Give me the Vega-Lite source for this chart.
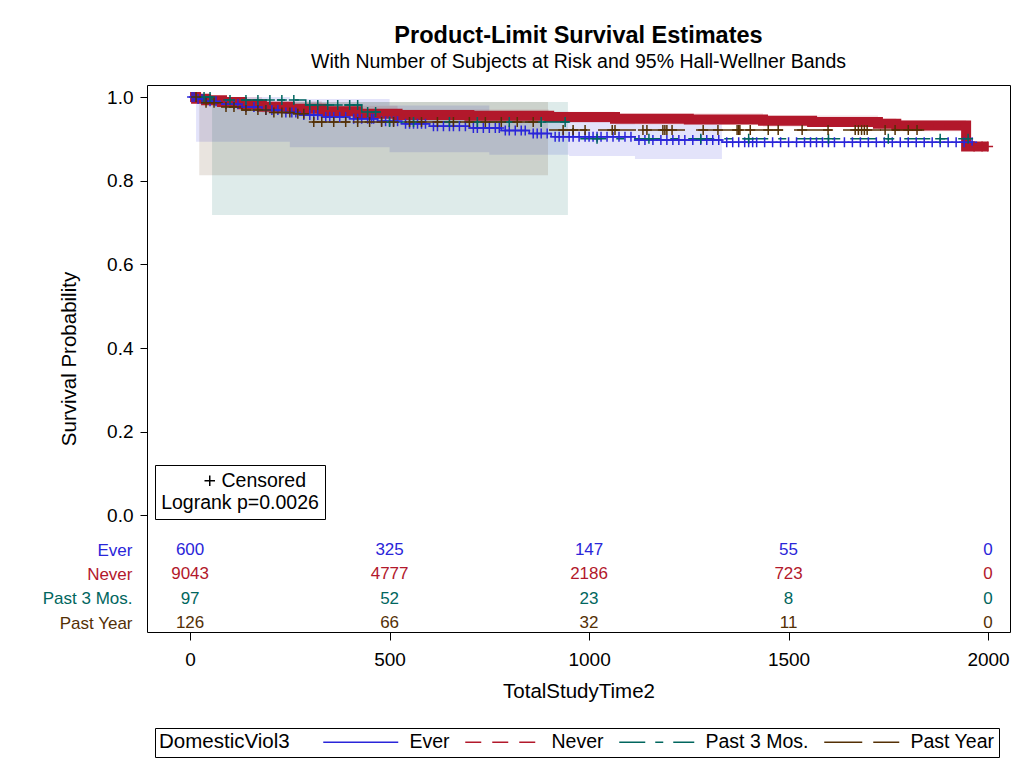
{
  "$schema": "https://vega.github.io/schema/vega-lite/v6.json",
  "width": 863,
  "height": 547,
  "autosize": {"type": "none"},
  "padding": {"left": 147, "top": 85, "right": 20, "bottom": 137},
  "background": "white",
  "title": {
    "text": "Product-Limit Survival Estimates",
    "subtitle": "With Number of Subjects at Risk and 95% Hall-Wellner Bands",
    "anchor": "middle",
    "fontSize": 23.5,
    "fontWeight": "bold",
    "color": "black",
    "subtitleFontSize": 19.5,
    "subtitleColor": "black",
    "subtitlePadding": 5,
    "offset": 6
  },
  "datasets": {
    "km": [
      {"group": "Ever", "t": 0, "s": 1.0}, {"group": "Ever", "t": 15, "s": 0.995}, {"group": "Ever", "t": 40, "s": 0.99},
      {"group": "Ever", "t": 80, "s": 0.983}, {"group": "Ever", "t": 130, "s": 0.976}, {"group": "Ever", "t": 180, "s": 0.969},
      {"group": "Ever", "t": 230, "s": 0.963}, {"group": "Ever", "t": 275, "s": 0.957}, {"group": "Ever", "t": 330, "s": 0.952},
      {"group": "Ever", "t": 400, "s": 0.948}, {"group": "Ever", "t": 470, "s": 0.942}, {"group": "Ever", "t": 530, "s": 0.936},
      {"group": "Ever", "t": 600, "s": 0.93}, {"group": "Ever", "t": 700, "s": 0.926}, {"group": "Ever", "t": 780, "s": 0.92},
      {"group": "Ever", "t": 850, "s": 0.913}, {"group": "Ever", "t": 905, "s": 0.905}, {"group": "Ever", "t": 1115, "s": 0.897},
      {"group": "Ever", "t": 1333, "s": 0.892}, {"group": "Ever", "t": 1965, "s": 0.892},
      {"group": "Never", "t": 0, "s": 1.0}, {"group": "Never", "t": 15, "s": 0.996}, {"group": "Never", "t": 40, "s": 0.992},
      {"group": "Never", "t": 80, "s": 0.988}, {"group": "Never", "t": 130, "s": 0.983}, {"group": "Never", "t": 180, "s": 0.977},
      {"group": "Never", "t": 250, "s": 0.972}, {"group": "Never", "t": 330, "s": 0.966}, {"group": "Never", "t": 420, "s": 0.96},
      {"group": "Never", "t": 520, "s": 0.957}, {"group": "Never", "t": 700, "s": 0.955}, {"group": "Never", "t": 900, "s": 0.952},
      {"group": "Never", "t": 1065, "s": 0.948}, {"group": "Never", "t": 1250, "s": 0.946}, {"group": "Never", "t": 1436, "s": 0.943},
      {"group": "Never", "t": 1559, "s": 0.94}, {"group": "Never", "t": 1724, "s": 0.936}, {"group": "Never", "t": 1770, "s": 0.932},
      {"group": "Never", "t": 1945, "s": 0.882}, {"group": "Never", "t": 2000, "s": 0.882},
      {"group": "Past 3 Mos.", "t": 0, "s": 1.0}, {"group": "Past 3 Mos.", "t": 55, "s": 0.993}, {"group": "Past 3 Mos.", "t": 290, "s": 0.981},
      {"group": "Past 3 Mos.", "t": 430, "s": 0.964}, {"group": "Past 3 Mos.", "t": 480, "s": 0.94}, {"group": "Past 3 Mos.", "t": 960, "s": 0.9},
      {"group": "Past 3 Mos.", "t": 1950, "s": 0.9},
      {"group": "Past Year", "t": 0, "s": 1.0}, {"group": "Past Year", "t": 30, "s": 0.986}, {"group": "Past Year", "t": 80, "s": 0.976},
      {"group": "Past Year", "t": 130, "s": 0.969}, {"group": "Past Year", "t": 200, "s": 0.963}, {"group": "Past Year", "t": 260, "s": 0.96},
      {"group": "Past Year", "t": 295, "s": 0.94}, {"group": "Past Year", "t": 880, "s": 0.921}, {"group": "Past Year", "t": 1840, "s": 0.921}
    ],
    "bands": [
      {"group": "Ever", "t": 15, "lo": 0.893, "hi": 1.0}, {"group": "Ever", "t": 250, "lo": 0.88, "hi": 0.995},
      {"group": "Ever", "t": 500, "lo": 0.868, "hi": 0.98}, {"group": "Ever", "t": 750, "lo": 0.862, "hi": 0.965},
      {"group": "Ever", "t": 950, "lo": 0.859, "hi": 0.94}, {"group": "Ever", "t": 1115, "lo": 0.852, "hi": 0.935},
      {"group": "Ever", "t": 1333, "lo": 0.852, "hi": 0.935},
      {"group": "Never", "t": 0, "lo": 0.986, "hi": 1.0}, {"group": "Never", "t": 80, "lo": 0.974, "hi": 1.0},
      {"group": "Never", "t": 180, "lo": 0.963, "hi": 0.99}, {"group": "Never", "t": 330, "lo": 0.952, "hi": 0.979},
      {"group": "Never", "t": 520, "lo": 0.943, "hi": 0.97}, {"group": "Never", "t": 900, "lo": 0.938, "hi": 0.965},
      {"group": "Never", "t": 1065, "lo": 0.934, "hi": 0.961}, {"group": "Never", "t": 1436, "lo": 0.929, "hi": 0.956},
      {"group": "Never", "t": 1724, "lo": 0.922, "hi": 0.949}, {"group": "Never", "t": 1770, "lo": 0.918, "hi": 0.945},
      {"group": "Never", "t": 1945, "lo": 0.918, "hi": 0.945},
      {"group": "Past 3 Mos.", "t": 55, "lo": 0.718, "hi": 0.988}, {"group": "Past 3 Mos.", "t": 947, "lo": 0.718, "hi": 0.988},
      {"group": "Past Year", "t": 23, "lo": 0.813, "hi": 0.988}, {"group": "Past Year", "t": 897, "lo": 0.813, "hi": 0.988}
    ],
    "cens": [
      {"group": "Ever", "t": 5, "s": 1.0}, {"group": "Ever", "t": 10, "s": 1.0},
      {"group": "Ever", "t": 20, "s": 0.995}, {"group": "Ever", "t": 30, "s": 0.995},
      {"group": "Ever", "t": 50, "s": 0.99}, {"group": "Ever", "t": 65, "s": 0.99},
      {"group": "Ever", "t": 90, "s": 0.983}, {"group": "Ever", "t": 110, "s": 0.983}, {"group": "Ever", "t": 120, "s": 0.983},
      {"group": "Ever", "t": 140, "s": 0.976}, {"group": "Ever", "t": 160, "s": 0.976}, {"group": "Ever", "t": 170, "s": 0.976},
      {"group": "Ever", "t": 190, "s": 0.969}, {"group": "Ever", "t": 205, "s": 0.969}, {"group": "Ever", "t": 220, "s": 0.969},
      {"group": "Ever", "t": 240, "s": 0.963}, {"group": "Ever", "t": 255, "s": 0.963}, {"group": "Ever", "t": 265, "s": 0.963},
      {"group": "Ever", "t": 285, "s": 0.957}, {"group": "Ever", "t": 300, "s": 0.957}, {"group": "Ever", "t": 310, "s": 0.957}, {"group": "Ever", "t": 320, "s": 0.957},
      {"group": "Ever", "t": 340, "s": 0.952}, {"group": "Ever", "t": 350, "s": 0.952}, {"group": "Ever", "t": 360, "s": 0.952}, {"group": "Ever", "t": 375, "s": 0.952}, {"group": "Ever", "t": 390, "s": 0.952},
      {"group": "Ever", "t": 410, "s": 0.948}, {"group": "Ever", "t": 420, "s": 0.948}, {"group": "Ever", "t": 430, "s": 0.948}, {"group": "Ever", "t": 445, "s": 0.948}, {"group": "Ever", "t": 455, "s": 0.948}, {"group": "Ever", "t": 460, "s": 0.948},
      {"group": "Ever", "t": 480, "s": 0.942}, {"group": "Ever", "t": 490, "s": 0.942}, {"group": "Ever", "t": 500, "s": 0.942}, {"group": "Ever", "t": 510, "s": 0.942}, {"group": "Ever", "t": 520, "s": 0.942},
      {"group": "Ever", "t": 540, "s": 0.936}, {"group": "Ever", "t": 550, "s": 0.936}, {"group": "Ever", "t": 560, "s": 0.936}, {"group": "Ever", "t": 570, "s": 0.936}, {"group": "Ever", "t": 580, "s": 0.936}, {"group": "Ever", "t": 590, "s": 0.936},
      {"group": "Ever", "t": 610, "s": 0.93}, {"group": "Ever", "t": 620, "s": 0.93}, {"group": "Ever", "t": 635, "s": 0.93}, {"group": "Ever", "t": 650, "s": 0.93}, {"group": "Ever", "t": 660, "s": 0.93}, {"group": "Ever", "t": 675, "s": 0.93}, {"group": "Ever", "t": 690, "s": 0.93},
      {"group": "Ever", "t": 710, "s": 0.926}, {"group": "Ever", "t": 720, "s": 0.926}, {"group": "Ever", "t": 735, "s": 0.926}, {"group": "Ever", "t": 750, "s": 0.926}, {"group": "Ever", "t": 765, "s": 0.926}, {"group": "Ever", "t": 775, "s": 0.926},
      {"group": "Ever", "t": 790, "s": 0.92}, {"group": "Ever", "t": 800, "s": 0.92}, {"group": "Ever", "t": 815, "s": 0.92}, {"group": "Ever", "t": 830, "s": 0.92}, {"group": "Ever", "t": 840, "s": 0.92},
      {"group": "Ever", "t": 860, "s": 0.913}, {"group": "Ever", "t": 870, "s": 0.913}, {"group": "Ever", "t": 880, "s": 0.913}, {"group": "Ever", "t": 895, "s": 0.913},
      {"group": "Ever", "t": 915, "s": 0.905}, {"group": "Ever", "t": 925, "s": 0.905}, {"group": "Ever", "t": 935, "s": 0.905}, {"group": "Ever", "t": 950, "s": 0.905},
      {"group": "Ever", "t": 960, "s": 0.905}, {"group": "Ever", "t": 975, "s": 0.905}, {"group": "Ever", "t": 990, "s": 0.905}, {"group": "Ever", "t": 1000, "s": 0.905},
      {"group": "Ever", "t": 1010, "s": 0.905}, {"group": "Ever", "t": 1020, "s": 0.905}, {"group": "Ever", "t": 1030, "s": 0.905}, {"group": "Ever", "t": 1045, "s": 0.905},
      {"group": "Ever", "t": 1060, "s": 0.905}, {"group": "Ever", "t": 1075, "s": 0.905}, {"group": "Ever", "t": 1090, "s": 0.905}, {"group": "Ever", "t": 1105, "s": 0.905},
      {"group": "Ever", "t": 1125, "s": 0.897}, {"group": "Ever", "t": 1140, "s": 0.897}, {"group": "Ever", "t": 1160, "s": 0.897}, {"group": "Ever", "t": 1180, "s": 0.897},
      {"group": "Ever", "t": 1195, "s": 0.897}, {"group": "Ever", "t": 1210, "s": 0.897}, {"group": "Ever", "t": 1225, "s": 0.897}, {"group": "Ever", "t": 1240, "s": 0.897},
      {"group": "Ever", "t": 1260, "s": 0.897}, {"group": "Ever", "t": 1280, "s": 0.897}, {"group": "Ever", "t": 1295, "s": 0.897}, {"group": "Ever", "t": 1310, "s": 0.897}, {"group": "Ever", "t": 1325, "s": 0.897},
      {"group": "Ever", "t": 1345, "s": 0.892}, {"group": "Ever", "t": 1360, "s": 0.892}, {"group": "Ever", "t": 1375, "s": 0.892}, {"group": "Ever", "t": 1390, "s": 0.892},
      {"group": "Ever", "t": 1400, "s": 0.892}, {"group": "Ever", "t": 1410, "s": 0.892}, {"group": "Ever", "t": 1420, "s": 0.892}, {"group": "Ever", "t": 1440, "s": 0.892},
      {"group": "Ever", "t": 1460, "s": 0.892}, {"group": "Ever", "t": 1480, "s": 0.892}, {"group": "Ever", "t": 1500, "s": 0.892}, {"group": "Ever", "t": 1520, "s": 0.892},
      {"group": "Ever", "t": 1540, "s": 0.892}, {"group": "Ever", "t": 1555, "s": 0.892}, {"group": "Ever", "t": 1570, "s": 0.892}, {"group": "Ever", "t": 1585, "s": 0.892},
      {"group": "Ever", "t": 1600, "s": 0.892}, {"group": "Ever", "t": 1615, "s": 0.892}, {"group": "Ever", "t": 1640, "s": 0.892}, {"group": "Ever", "t": 1660, "s": 0.892},
      {"group": "Ever", "t": 1680, "s": 0.892}, {"group": "Ever", "t": 1700, "s": 0.892}, {"group": "Ever", "t": 1720, "s": 0.892}, {"group": "Ever", "t": 1740, "s": 0.892},
      {"group": "Ever", "t": 1760, "s": 0.892}, {"group": "Ever", "t": 1780, "s": 0.892}, {"group": "Ever", "t": 1800, "s": 0.892}, {"group": "Ever", "t": 1820, "s": 0.892},
      {"group": "Ever", "t": 1840, "s": 0.892}, {"group": "Ever", "t": 1860, "s": 0.892}, {"group": "Ever", "t": 1880, "s": 0.892}, {"group": "Ever", "t": 1900, "s": 0.892},
      {"group": "Ever", "t": 1920, "s": 0.892}, {"group": "Ever", "t": 1940, "s": 0.892}, {"group": "Ever", "t": 1960, "s": 0.892},
      {"group": "Never", "t": 1965, "s": 0.882}, {"group": "Never", "t": 1985, "s": 0.882}, {"group": "Never", "t": 2000, "s": 0.882},
      {"group": "Past 3 Mos.", "t": 35, "s": 1.0}, {"group": "Past 3 Mos.", "t": 50, "s": 1.0},
      {"group": "Past 3 Mos.", "t": 100, "s": 0.993}, {"group": "Past 3 Mos.", "t": 140, "s": 0.993}, {"group": "Past 3 Mos.", "t": 170, "s": 0.993},
      {"group": "Past 3 Mos.", "t": 200, "s": 0.993}, {"group": "Past 3 Mos.", "t": 230, "s": 0.993}, {"group": "Past 3 Mos.", "t": 260, "s": 0.993},
      {"group": "Past 3 Mos.", "t": 300, "s": 0.981}, {"group": "Past 3 Mos.", "t": 320, "s": 0.981}, {"group": "Past 3 Mos.", "t": 345, "s": 0.981},
      {"group": "Past 3 Mos.", "t": 370, "s": 0.981}, {"group": "Past 3 Mos.", "t": 400, "s": 0.981}, {"group": "Past 3 Mos.", "t": 420, "s": 0.981},
      {"group": "Past 3 Mos.", "t": 445, "s": 0.964}, {"group": "Past 3 Mos.", "t": 465, "s": 0.964},
      {"group": "Past 3 Mos.", "t": 500, "s": 0.94}, {"group": "Past 3 Mos.", "t": 560, "s": 0.94}, {"group": "Past 3 Mos.", "t": 650, "s": 0.94},
      {"group": "Past 3 Mos.", "t": 720, "s": 0.94}, {"group": "Past 3 Mos.", "t": 800, "s": 0.94}, {"group": "Past 3 Mos.", "t": 880, "s": 0.94}, {"group": "Past 3 Mos.", "t": 940, "s": 0.94},
      {"group": "Past 3 Mos.", "t": 1020, "s": 0.9}, {"group": "Past 3 Mos.", "t": 1150, "s": 0.9}, {"group": "Past 3 Mos.", "t": 1280, "s": 0.9}, {"group": "Past 3 Mos.", "t": 1400, "s": 0.9},
      {"group": "Past 3 Mos.", "t": 1600, "s": 0.9}, {"group": "Past 3 Mos.", "t": 1750, "s": 0.9}, {"group": "Past 3 Mos.", "t": 1880, "s": 0.9}, {"group": "Past 3 Mos.", "t": 1950, "s": 0.9},
      {"group": "Past Year", "t": 15, "s": 1.0},
      {"group": "Past Year", "t": 40, "s": 0.986}, {"group": "Past Year", "t": 60, "s": 0.986},
      {"group": "Past Year", "t": 90, "s": 0.976}, {"group": "Past Year", "t": 110, "s": 0.976},
      {"group": "Past Year", "t": 140, "s": 0.969}, {"group": "Past Year", "t": 170, "s": 0.969}, {"group": "Past Year", "t": 190, "s": 0.969},
      {"group": "Past Year", "t": 210, "s": 0.963}, {"group": "Past Year", "t": 230, "s": 0.963}, {"group": "Past Year", "t": 250, "s": 0.963},
      {"group": "Past Year", "t": 270, "s": 0.96}, {"group": "Past Year", "t": 285, "s": 0.96},
      {"group": "Past Year", "t": 310, "s": 0.94}, {"group": "Past Year", "t": 330, "s": 0.94}, {"group": "Past Year", "t": 360, "s": 0.94}, {"group": "Past Year", "t": 390, "s": 0.94},
      {"group": "Past Year", "t": 420, "s": 0.94}, {"group": "Past Year", "t": 450, "s": 0.94}, {"group": "Past Year", "t": 480, "s": 0.94}, {"group": "Past Year", "t": 510, "s": 0.94},
      {"group": "Past Year", "t": 550, "s": 0.94}, {"group": "Past Year", "t": 580, "s": 0.94}, {"group": "Past Year", "t": 620, "s": 0.94}, {"group": "Past Year", "t": 660, "s": 0.94},
      {"group": "Past Year", "t": 700, "s": 0.94}, {"group": "Past Year", "t": 740, "s": 0.94}, {"group": "Past Year", "t": 780, "s": 0.94}, {"group": "Past Year", "t": 820, "s": 0.94}, {"group": "Past Year", "t": 860, "s": 0.94},
      {"group": "Past Year", "t": 935, "s": 0.921}, {"group": "Past Year", "t": 960, "s": 0.921}, {"group": "Past Year", "t": 990, "s": 0.921}, {"group": "Past Year", "t": 1058, "s": 0.921},
      {"group": "Past Year", "t": 1065, "s": 0.921}, {"group": "Past Year", "t": 1135, "s": 0.921}, {"group": "Past Year", "t": 1145, "s": 0.921}, {"group": "Past Year", "t": 1185, "s": 0.921},
      {"group": "Past Year", "t": 1190, "s": 0.921}, {"group": "Past Year", "t": 1195, "s": 0.921}, {"group": "Past Year", "t": 1208, "s": 0.921}, {"group": "Past Year", "t": 1286, "s": 0.921},
      {"group": "Past Year", "t": 1323, "s": 0.921}, {"group": "Past Year", "t": 1371, "s": 0.921}, {"group": "Past Year", "t": 1375, "s": 0.921}, {"group": "Past Year", "t": 1378, "s": 0.921},
      {"group": "Past Year", "t": 1404, "s": 0.921}, {"group": "Past Year", "t": 1449, "s": 0.921}, {"group": "Past Year", "t": 1474, "s": 0.921}, {"group": "Past Year", "t": 1534, "s": 0.921},
      {"group": "Past Year", "t": 1599, "s": 0.921}, {"group": "Past Year", "t": 1667, "s": 0.921}, {"group": "Past Year", "t": 1675, "s": 0.921}, {"group": "Past Year", "t": 1683, "s": 0.921},
      {"group": "Past Year", "t": 1690, "s": 0.921}, {"group": "Past Year", "t": 1697, "s": 0.921}, {"group": "Past Year", "t": 1742, "s": 0.921}, {"group": "Past Year", "t": 1767, "s": 0.921},
      {"group": "Past Year", "t": 1800, "s": 0.921}, {"group": "Past Year", "t": 1822, "s": 0.921}
    ],
    "risk": [
      {"group": "Ever", "t": 0, "n": 600}, {"group": "Ever", "t": 500, "n": 325}, {"group": "Ever", "t": 1000, "n": 147}, {"group": "Ever", "t": 1500, "n": 55}, {"group": "Ever", "t": 2000, "n": 0},
      {"group": "Never", "t": 0, "n": 9043}, {"group": "Never", "t": 500, "n": 4777}, {"group": "Never", "t": 1000, "n": 2186}, {"group": "Never", "t": 1500, "n": 723}, {"group": "Never", "t": 2000, "n": 0},
      {"group": "Past 3 Mos.", "t": 0, "n": 97}, {"group": "Past 3 Mos.", "t": 500, "n": 52}, {"group": "Past 3 Mos.", "t": 1000, "n": 23}, {"group": "Past 3 Mos.", "t": 1500, "n": 8}, {"group": "Past 3 Mos.", "t": 2000, "n": 0},
      {"group": "Past Year", "t": 0, "n": 126}, {"group": "Past Year", "t": 500, "n": 66}, {"group": "Past Year", "t": 1000, "n": 32}, {"group": "Past Year", "t": 1500, "n": 11}, {"group": "Past Year", "t": 2000, "n": 0}
    ]
  },
  "layer": [
    {
      "layer": [
        {
          "data": {"name": "bands"},
          "mark": {"type": "area", "interpolate": "step-after", "fillOpacity": 0.13},
          "encoding": {
            "x": {
              "field": "t", "type": "quantitative",
              "scale": {"domain": [-108, 2055], "nice": false, "zero": false},
              "axis": {
                "values": [0, 500, 1000, 1500, 2000], "format": "d", "title": "TotalStudyTime2",
                "tickSize": 8, "labelPadding": 10, "labelFontSize": 19, "labelFlush": false,
                "titleFontSize": 20.5, "titleFontWeight": "normal", "titlePadding": 12,
                "domain": false, "grid": false
              }
            },
            "y": {
              "field": "lo", "type": "quantitative",
              "scale": {"domain": [-0.2784, 1.0287], "nice": false, "zero": false},
              "axis": {
                "values": [0, 0.2, 0.4, 0.6, 0.8, 1.0], "format": ".1f", "title": "Survival Probability",
                "tickSize": 7, "labelPadding": 7, "labelFontSize": 19,
                "titleFontSize": 20.5, "titleFontWeight": "normal", "titlePadding": 27,
                "domain": false, "grid": false
              }
            },
            "y2": {"field": "hi"},
            "fill": {
              "field": "group", "type": "nominal",
              "scale": {"range": ["#2A25D9", "#B2182B", "#01665E", "#543005"]},
              "legend": null
            }
          }
        },
        {
          "data": {"name": "km"},
          "transform": [{"filter": "datum.group === 'Never'"}],
          "mark": {"type": "line", "interpolate": "step-after", "strokeWidth": 10, "strokeCap": "butt", "color": "#B2182B"},
          "encoding": {
            "x": {"field": "t", "type": "quantitative"},
            "y": {"field": "s", "type": "quantitative"}
          }
        },
        {
          "data": {"name": "km"},
          "mark": {"type": "line", "interpolate": "step-after", "strokeWidth": 1.5},
          "encoding": {
            "x": {"field": "t", "type": "quantitative"},
            "y": {"field": "s", "type": "quantitative"},
            "color": {
              "field": "group", "type": "nominal",
              "scale": {"domain": ["Ever", "Never", "Past 3 Mos.", "Past Year"], "range": ["#2A25D9", "#B2182B", "#01665E", "#543005"]},
              "legend": {
                "title": "DomesticViol3", "orient": "none", "legendX": 8, "legendY": 643,
                "direction": "horizontal", "titleOrient": "left", "titleBaseline": "middle",
                "symbolType": "M-5,0H5", "symbolSize": 225, "symbolStrokeWidth": 1.5, "symbolOffset": 29,
                "labelFontSize": 19.5, "labelOffset": 39,
                "titleFontSize": 20.5, "titleFontWeight": "normal", "strokeColor": "black",
                "fillColor": "white", "padding": 4, "columnPadding": 12, "titlePadding": 32
              }
            },
            "strokeDash": {
              "field": "group", "type": "nominal",
              "scale": {"domain": ["Ever", "Never", "Past 3 Mos.", "Past Year"], "range": [[1, 0], [16, 11], [26, 10, 8, 10], [38, 11]]},
              "legend": {
                "title": "DomesticViol3", "orient": "none", "legendX": 8, "legendY": 643,
                "direction": "horizontal", "titleOrient": "left", "titleBaseline": "middle",
                "symbolType": "M-5,0H5", "symbolSize": 225, "symbolStrokeWidth": 1.5, "symbolOffset": 29,
                "labelFontSize": 19.5, "labelOffset": 39,
                "titleFontSize": 20.5, "titleFontWeight": "normal", "strokeColor": "black",
                "fillColor": "white", "padding": 4, "columnPadding": 12, "titlePadding": 32
              }
            }
          }
        },
        {
          "data": {"name": "cens"},
          "mark": {"type": "point", "filled": false, "strokeWidth": 1.5, "size": 100, "opacity": 1},
          "encoding": {
            "x": {"field": "t", "type": "quantitative"},
            "y": {"field": "s", "type": "quantitative"},
            "stroke": {
              "field": "group", "type": "nominal",
              "scale": {"range": ["#2A25D9", "#B2182B", "#01665E", "#543005"]},
              "legend": null
            },
            "shape": {
              "datum": "Censored", "type": "nominal",
              "scale": {"range": ["M-1,0H1M0,-1V1"]},
              "legend": {
                "title": "Logrank p=0.0026", "orient": "none", "legendX": 8, "legendY": 380,
                "titleOrient": "bottom", "titleAnchor": "middle", "titleFontSize": 19.5, "titleFontWeight": "normal",
                "labelFontSize": 19.5, "symbolStrokeColor": "black", "symbolStrokeWidth": 1.5, "symbolSize": 110,
                "symbolFillColor": "transparent", "symbolOpacity": 1, "strokeColor": "black", "fillColor": "white",
                "padding": 6, "symbolOffset": 26, "labelOffset": 2, "titlePadding": 4
              }
            }
          }
        }
      ]
    },
    {
      "data": {"name": "risk"},
      "mark": {"type": "text", "fontSize": 17},
      "encoding": {
        "x": {"field": "t", "type": "quantitative", "scale": {"domain": [-108, 2055], "nice": false, "zero": false}},
        "y": {
          "field": "group", "type": "nominal",
          "scale": {"type": "point", "domain": ["Ever", "Never", "Past 3 Mos.", "Past Year"], "range": [465, 538], "padding": 0},
          "axis": {
            "orient": "left", "title": null, "ticks": false, "domain": false, "grid": false,
            "labelPadding": 15, "labelFontSize": 17,
            "labelColor": {
              "condition": [
                {"test": "datum.value === 'Ever'", "value": "#2A25D9"},
                {"test": "datum.value === 'Never'", "value": "#B2182B"},
                {"test": "datum.value === 'Past 3 Mos.'", "value": "#01665E"}
              ],
              "value": "#543005"
            }
          }
        },
        "text": {"field": "n", "type": "quantitative"},
        "fill": {
          "field": "group", "type": "nominal",
          "scale": {"range": ["#2A25D9", "#B2182B", "#01665E", "#543005"]},
          "legend": null
        }
      }
    }
  ],
  "resolve": {"scale": {"y": "independent"}, "axis": {"y": "independent"}},
  "config": {
    "font": "Liberation Sans",
    "view": {"stroke": "black", "strokeWidth": 1},
    "axis": {"tickColor": "black", "labelColor": "black", "titleColor": "black", "tickWidth": 1},
    "legend": {"labelColor": "black", "titleColor": "black"}
  }
}
